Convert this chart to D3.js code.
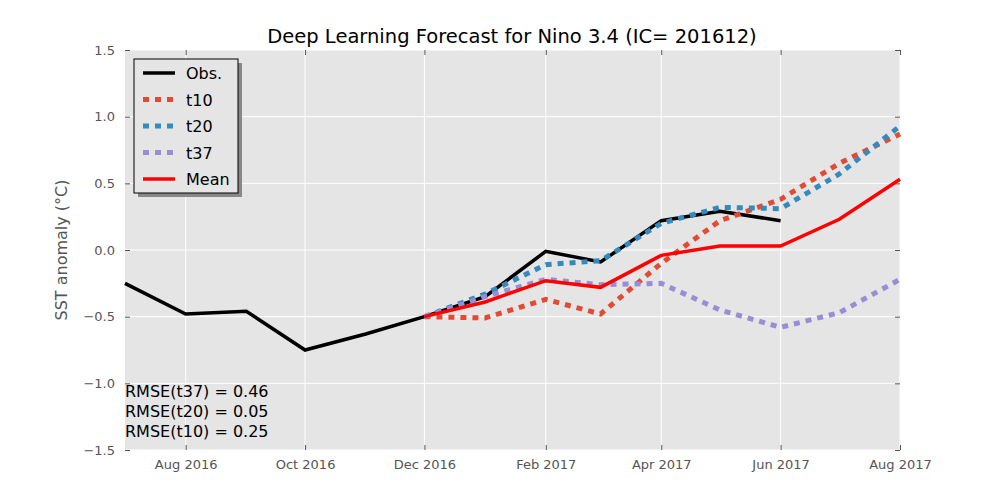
<!DOCTYPE html>
<html><head><meta charset="utf-8">
<script src="https://cdn.jsdelivr.net/npm/d3@7"></script>
<style>body{margin:0;background:#fff}text{font-family:"DejaVu Sans",sans-serif}</style>
</head><body><svg id="c" width="1000" height="500"></svg>
<script>
const obsMonths=["2016-07","2016-08","2016-09","2016-10","2016-11","2016-12","2017-01","2017-02","2017-03","2017-04","2017-05","2017-06"];
const obs=[-0.25,-0.48,-0.46,-0.75,-0.63,-0.50,-0.35,-0.01,-0.09,0.22,0.29,0.22];
const fcMonths=["2016-12","2017-01","2017-02","2017-03","2017-04","2017-05","2017-06","2017-07","2017-08"];
const t10=[-0.50,-0.51,-0.37,-0.48,-0.10,0.22,0.38,0.65,0.87];
const t20=[-0.50,-0.33,-0.11,-0.08,0.20,0.32,0.31,0.57,0.93];
const t37=[-0.50,-0.35,-0.22,-0.26,-0.25,-0.45,-0.58,-0.47,-0.22];
const mean=[-0.50,-0.39,-0.23,-0.28,-0.04,0.03,0.03,0.23,0.53];
const yTicks=[-1.5,-1.0,-0.5,0.0,0.5,1.0,1.5];
const xTicks=["2016-08","2016-10","2016-12","2017-02","2017-04","2017-06","2017-08"];
const rmse=["RMSE(t37) = 0.46","RMSE(t20) = 0.05","RMSE(t10) = 0.25"];

const p=d3.timeParse("%Y-%m");
const L=125,R=900,T=50,B=450;
const svg=d3.select("#c");
const x=d3.scaleTime().domain([p("2016-07"),p("2017-08")]).range([L,R]);
const y=d3.scaleLinear().domain([-1.5,1.5]).range([B,T]);
svg.append("rect").attr("x",L).attr("y",T).attr("width",R-L).attr("height",B-T).attr("fill","#e5e5e5");
const g=svg.append("g");
xTicks.forEach(t=>g.append("line").attr("x1",x(p(t))).attr("x2",x(p(t))).attr("y1",T).attr("y2",B).attr("stroke","#fff"));
yTicks.forEach(t=>g.append("line").attr("x1",L).attr("x2",R).attr("y1",y(t)).attr("y2",y(t)).attr("stroke","#fff"));
const fmt=d3.timeFormat("%b %Y");
const xa=svg.append("g").attr("transform",`translate(0,${B})`).call(d3.axisBottom(x).tickValues(xTicks.map(p)).tickFormat(fmt).tickSizeInner(-5).tickSizeOuter(0).tickPadding(10));
const ya=svg.append("g").attr("transform",`translate(${L},0)`).call(d3.axisLeft(y).tickValues(yTicks).tickFormat(d3.format(".1f")).tickSizeInner(-5).tickSizeOuter(0).tickPadding(10));
const yr=svg.append("g").attr("transform",`translate(${R},0)`).call(d3.axisRight(y).tickValues(yTicks).tickFormat("").tickSizeInner(-5).tickSizeOuter(0));
const xt=svg.append("g").attr("transform",`translate(0,${T})`).call(d3.axisTop(x).tickValues(xTicks.map(p)).tickFormat("").tickSizeInner(-5).tickSizeOuter(0));
[xa,ya,yr,xt].forEach(a=>{a.select(".domain").remove();a.selectAll("line").attr("stroke","#555");a.selectAll("text").attr("fill","#555").style("font-size","13px").style("font-family","DejaVu Sans");});
ya.selectAll("text").text(d=>d<0?"\u2212"+Math.abs(d).toFixed(1):d.toFixed(1));
const line=(ms,vs)=>d3.line().x((d,i)=>x(p(ms[i]))).y(d=>y(d))(vs);
const series=[
 {n:"t10",ms:fcMonths,v:t10,c:"#E24A33",w:5,da:"6,6"},
 {n:"t20",ms:fcMonths,v:t20,c:"#348ABD",w:5,da:"6,6"},
 {n:"t37",ms:fcMonths,v:t37,c:"#988ED5",w:5,da:"6,6"},
 {n:"Obs.",ms:obsMonths,v:obs,c:"#000",w:3.5,da:null},
 {n:"Mean",ms:fcMonths,v:mean,c:"#ff0000",w:3.5,da:null}];
const drawOrder=[series[3],series[0],series[1],series[2],series[4]];
drawOrder.forEach(s=>svg.append("path").attr("d",line(s.ms,s.v)).attr("fill","none").attr("stroke",s.c).attr("stroke-width",s.w).attr("stroke-dasharray",s.da));
svg.append("text").attr("x",512).attr("y",43).attr("text-anchor","middle").style("font-size","19.5px").text("Deep Learning Forecast for Nino 3.4 (IC= 201612)");
svg.append("text").attr("transform",`translate(67,250) rotate(-90)`).attr("text-anchor","middle").attr("fill","#555").style("font-size","16px").text("SST anomaly (\u00B0C)");
rmse.forEach((t,i)=>svg.append("text").attr("x",125).attr("y",397+i*20).style("font-size","16px").text(t));
svg.append("rect").attr("x",138).attr("y",63).attr("width",104).attr("height",134).attr("fill","#888");
svg.append("rect").attr("x",134).attr("y",59).attr("width",104).attr("height",134).attr("fill","#e5e5e5").attr("stroke","#000").attr("stroke-width",1);
const leg=[series[3],series[0],series[1],series[2],series[4]];
leg.forEach((s,i)=>{const yy=73+i*26.5;
 svg.append("line").attr("x1",143).attr("x2",175).attr("y1",yy).attr("y2",yy).attr("stroke",s.c).attr("stroke-width",s.w).attr("stroke-dasharray",s.da);
 svg.append("text").attr("x",186).attr("y",yy+6).style("font-size","16px").text(s.n);});
</script></body></html>
